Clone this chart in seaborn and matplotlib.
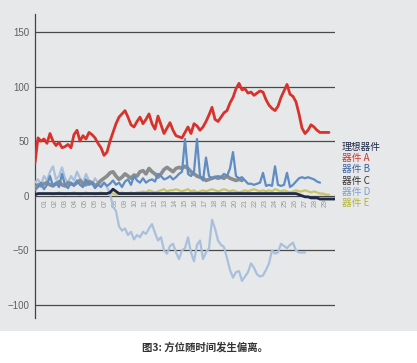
import numpy as np
import pandas as pd
import matplotlib
matplotlib.use("Agg")
import matplotlib.pyplot as plt
import seaborn as sns

# ---------------- data (x index: one step = one sample) ----------------
series_names = ["器件 A", "器件 B", "器件 C", "器件 D", "器件 E", "理想器件"]

a_start = 0
a_values = [30, 53, 50, 52, 48, 57, 50, 46, 49, 44, 45, 47, 44, 56, 60, 50, 55, 52, 58, 56,
            53, 48, 44, 37, 40, 50, 58, 66, 72, 75, 78, 72, 65, 63, 68, 72, 66, 70, 75, 66,
            61, 73, 65, 57, 62, 67, 60, 55, 54, 53, 58, 63, 57, 66, 64, 60, 63, 68, 74, 81,
            70, 68, 72, 76, 78, 85, 90, 98, 103, 97, 98, 94, 95, 92, 94, 96, 95, 88, 83, 80,
            78, 82, 90, 96, 102, 93, 91, 86, 75, 62, 57, 60, 65, 63, 60, 58, 58, 58, 58]

b_start = 0
b_values = [5, 8, 12, 6, 10, 18, 9, 12, 8, 20, 10, 7, 12, 9, 14, 10, 8, 15, 10, 12,
            7, 10, 8, 12, 9, 11, 14, 10, 12, 8, 13, 15, 10, 18, 14, 12, 16, 12, 14, 15,
            13, 20, 18, 15, 16, 18, 15, 17, 20, 22, 52, 20, 18, 22, 52, 18, 14, 35, 18, 16,
            17, 18, 17, 20, 18, 25, 40, 18, 16, 17, 14, 11, 11, 10, 11, 12, 21, 9, 10, 9,
            27, 10, 9, 10, 21, 8, 10, 13, 16, 17, 16, 17, 16, 15, 13, 12]

c_start = 0
c_values = [8, 10, 9, 11, 12, 10, 9, 11, 13, 10, 9, 12, 11, 10, 12, 14, 11, 10, 13, 12,
            9, 11, 14, 16, 18, 21, 22, 18, 15, 17, 20, 18, 16, 19, 18, 22, 23, 20, 25, 22,
            20, 17, 20, 24, 26, 24, 22, 25, 26, 25, 27, 25, 22, 20, 18, 17, 16, 14, 15, 16,
            17, 16, 17, 16, 18, 16, 15, 14, 15, 14]

d_start = 0
d_values = [12, 15, 10, 18, 14, 22, 27, 15, 18, 26, 16, 12, 18, 14, 22, 16, 12, 20, 14, 10,
            16, 12, 10, 12, 8, 2, -10, -14, -28, -32, -30, -36, -33, -40, -36, -38, -33, -35, -30, -26,
            -34, -41, -38, -50, -53, -46, -44, -52, -58, -50, -48, -38, -52, -60, -45, -41, -58, -52, -48, -22,
            -30, -41, -45, -47, -57, -68, -75, -70, -69, -78, -74, -70, -62, -66, -72, -74, -73, -68, -62, -50,
            -53, -52, -44, -46, -48, -45, -43, -50, -52, -52, -52]

e_start = 5
e_values = [2, 1, 2, 3, 2, 1, 2, 2, 3, 2, 1, 2, 3, 2, 2, 1, 2, 3, 2, 2, 3, 2, 1, 2, 3, 2, 2, 3, 2, 3,
            3, 4, 3, 5, 4, 3, 4, 5, 6, 4, 5, 5, 6, 5, 4, 5, 6, 4, 5, 3, 4, 5, 4, 5, 6, 5, 4, 5, 6, 5,
            4, 5, 4, 3, 4, 5, 4, 5, 6, 5, 4, 5, 4, 5, 4, 6, 5, 4, 5, 4, 3, 4, 5, 4, 4, 5, 4, 3, 4, 3,
            2, 2, 1, 1]

ideal_start = 0
ideal_values = [1] + [2] * 24 + [3, 6, 4] + [2] * 60 + [1, 0, -1, -1, -2, -2, -2, -3, -3, -3, -3, -3, -3]

x_tick_labels = ["%02d" % d for d in range(1, 30)]
y_ticks = [-100, -50, 0, 50, 100, 150]

# ---------------- build table ----------------
series_data = {
    "器件 A": (a_start, a_values),
    "器件 B": (b_start, b_values),
    "器件 C": (c_start, c_values),
    "器件 D": (d_start, d_values),
    "器件 E": (e_start, e_values),
    "理想器件": (ideal_start, ideal_values),
}
rows = []
for name, (start, vals) in series_data.items():
    for k, v in enumerate(vals):
        rows.append({"x": start + k, "value": v, "series": name})
df = pd.DataFrame(rows)

colors = {
    "器件 A": "#d8322c",
    "器件 B": "#5f8cc2",
    "器件 C": "#8a8c8e",
    "器件 D": "#a9c0dc",
    "器件 E": "#c9c46a",
    "理想器件": "#1e2a48",
}
widths = {"器件 A": 2.0, "器件 B": 1.6, "器件 C": 2.6, "器件 D": 1.6, "器件 E": 1.6, "理想器件": 2.0}
draw_order = ["器件 D", "器件 E", "器件 C", "器件 B", "器件 A", "理想器件"]

# ---------------- figure ----------------
sns.set_theme(style="white")
plt.rcParams["font.family"] = ["Noto Sans CJK SC", "DejaVu Sans"]

fig = plt.figure(figsize=(4.17, 3.63), dpi=100)
fig.patch.set_facecolor("white")

# grey panel behind the chart
bg_ax = fig.add_axes([0, 1 - 331 / 363, 1, 331 / 363], zorder=-5)
bg_ax.set_facecolor("#e6e8ea")
bg_ax.set_xticks([])
bg_ax.set_yticks([])
for s in bg_ax.spines.values():
    s.set_visible(False)

ax = fig.add_axes([35 / 417, 1 - 318 / 363, 300 / 417, (318 - 14) / 363], zorder=1)
ax.set_facecolor("none")

for name in draw_order:
    sub = df[df["series"] == name]
    sns.lineplot(data=sub, x="x", y="value", ax=ax, color=colors[name],
                 linewidth=widths[name], legend=False, zorder=3)

ax.set_xlim(0, 100)
ax.set_ylim(-112, 166.5)

# spine positioning first (it resets tick properties)
ax.spines["bottom"].set_position(("data", 0))
ax.spines["bottom"].set_color("none")
ax.spines["top"].set_visible(False)
ax.spines["right"].set_visible(False)
ax.spines["left"].set_color("#444444")
ax.spines["left"].set_linewidth(0.9)

ax.set_yticks(y_ticks)
ax.set_yticklabels([str(t).replace("-", "\u2212") for t in y_ticks])
ax.yaxis.grid(True, color="#4a4a4a", linewidth=0.9, zorder=1)
ax.xaxis.grid(False)
ax.set_axisbelow(True)

tick_pos = np.linspace(3.3, 96.7, len(x_tick_labels))
ax.set_xticks(tick_pos)
ax.set_xticklabels(x_tick_labels)
ax.tick_params(axis="x", length=0, pad=2.5, labelsize=5.2, labelcolor="#999999",
               labelrotation=90)
ax.tick_params(axis="y", length=0, pad=4, labelsize=7, labelcolor="#606060")
for lab in ax.get_yticklabels() + ax.get_xticklabels():
    lab.set_family(["Liberation Sans", "DejaVu Sans"])
ax.set_xlabel("")
ax.set_ylabel("")

# legend as coloured text
legend_x = 342 / 417
legend_top = 147
line_h = 11.2
fig.text(legend_x, 1 - legend_top / 363, "理想器件", color=colors["理想器件"],
         fontsize=7, va="center", ha="left")
legend_colors = ["#d8322c", "#3d62a0", "#333333", "#7d9fd0", "#b4b43c"]
for k, name in enumerate(["器件 A", "器件 B", "器件 C", "器件 D", "器件 E"]):
    fig.text(legend_x, 1 - (legend_top + line_h * (k + 1)) / 363, name, color=legend_colors[k],
             fontsize=7, va="center", ha="left")

fig.text(205 / 417, 1 - 347 / 363, "图3: 方位随时间发生偏离。", color="#333333",
         fontsize=7.5, fontweight="bold", ha="center", va="center")

fig.savefig("out.png", dpi=100, facecolor=fig.get_facecolor())
